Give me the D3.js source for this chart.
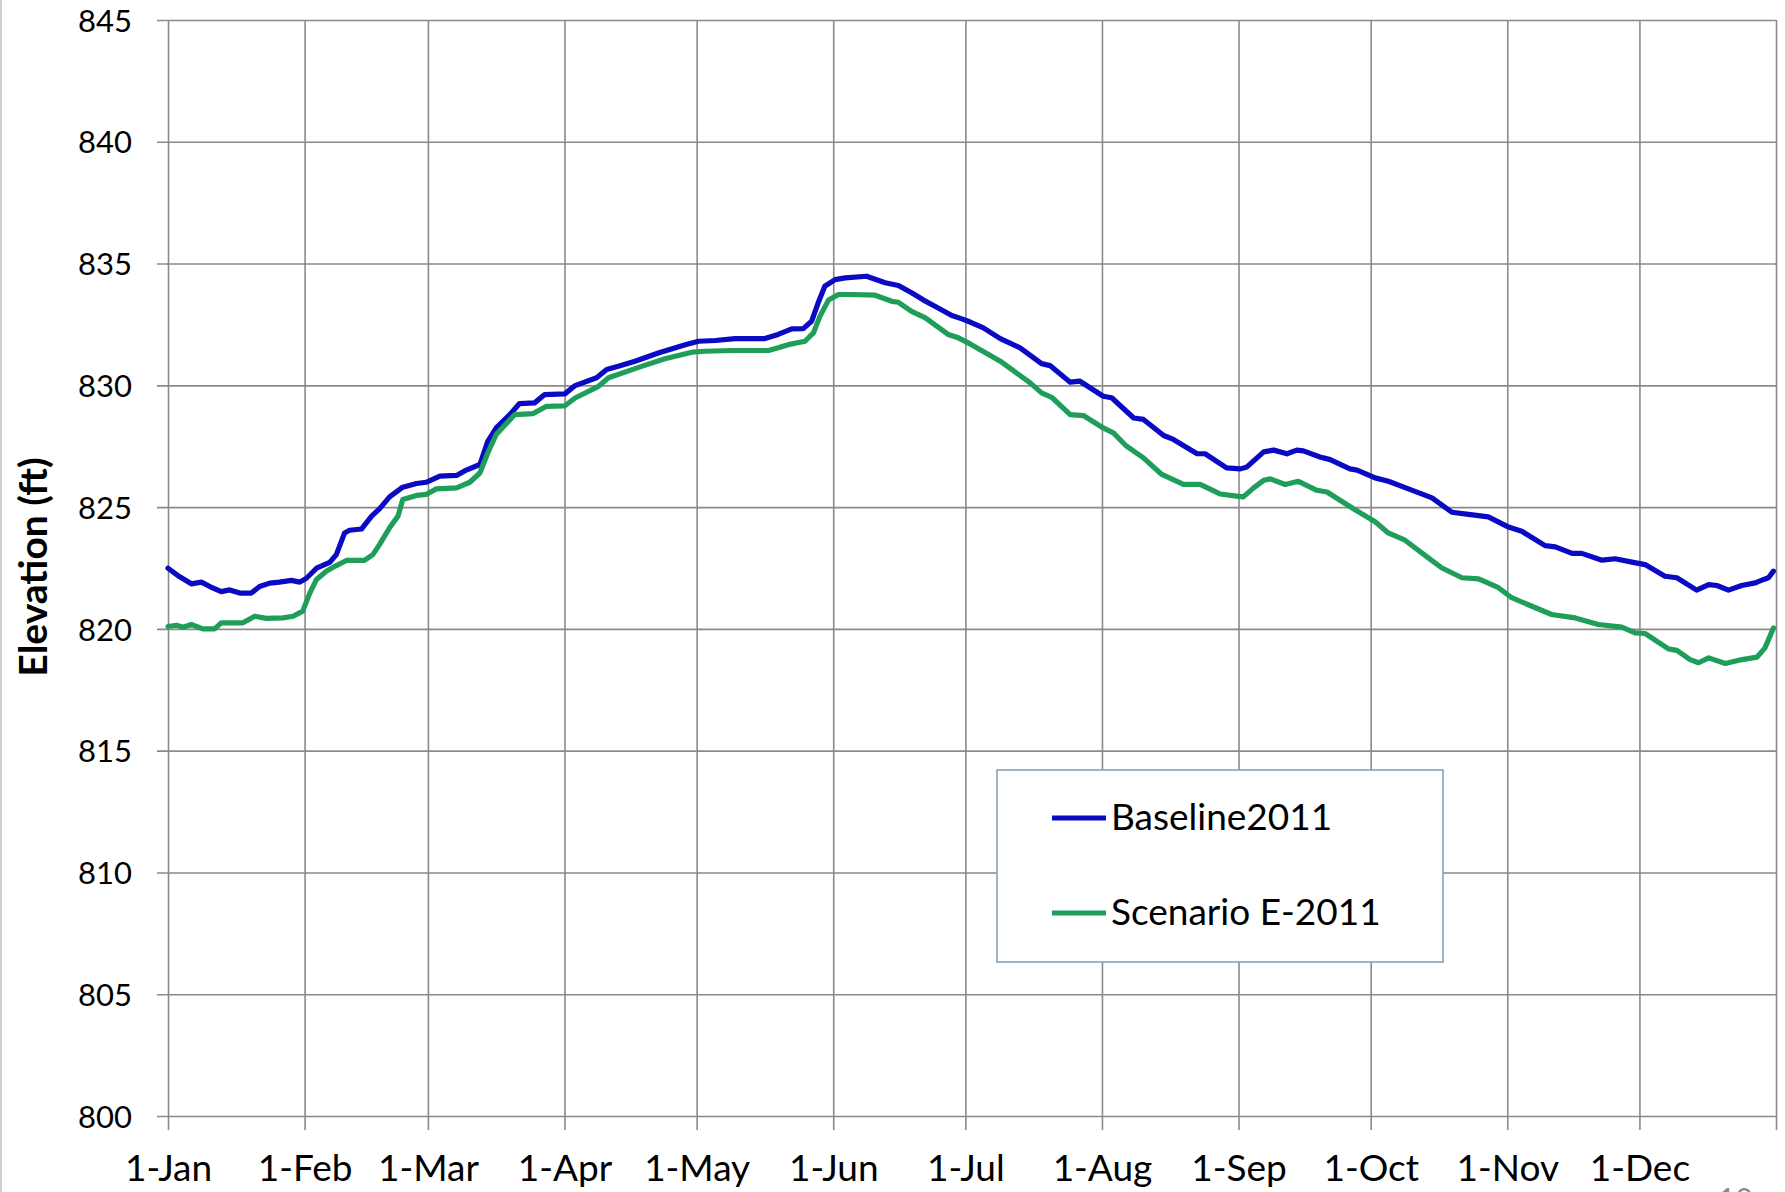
<!DOCTYPE html>
<html>
<head>
<meta charset="utf-8">
<script src="https://cdn.jsdelivr.net/npm/d3@7"></script>
<style>
  body { margin: 0; background: #fff; }
  svg { display: block; font-family: Lato, "Open Sans", sans-serif; }
</style>
</head>
<body>
<svg id="chart"></svg>
<script>
// day of year (0 = 1-Jan-2011) and elevation (ft)
var baseDays = [0, 2.6, 5.3, 7.6, 9.5, 12.1, 14, 16.3, 18.9, 20.8, 23.1, 25.3, 28, 29.9, 31.4, 33.7, 36.7, 38.2, 40.1, 41.2,
  43.9, 46.2, 48, 50.3, 53.3, 56.4, 58.6, 61.7, 65.5, 67.7, 70.8, 72.6, 74.5, 77.6, 79.8, 83.2, 85.5, 90.1,
  92.4, 97.3, 99.6, 102.2, 106, 111.3, 117.4, 120.4, 124.2, 128.7, 135.5, 138.5, 141.6, 144.2, 146.1, 147.6, 149.1,
  151.4, 153.7, 158.6, 162.8, 165.8, 168.8, 171.5, 174.1, 177.9, 180.2, 182.1, 185.1, 188.9, 193.4, 198.3, 200.2,
  204.8, 207, 212.3, 214.2, 219.2, 221.4, 226, 228.2, 233.5, 235.4, 240.3, 243.4, 244.9, 248.7, 251, 254, 256.2,
  257.7, 261.5, 263.8, 268.3, 269.9, 274, 277, 281.6, 286.9, 291.4, 295.2, 299.7, 304.3, 307.3, 312.6, 314.9,
  318.7, 320.9, 325.5, 328.5, 332.3, 335.3, 339.8, 342.5, 347, 349.7, 351.6, 354.2, 357.2, 360.3, 362.2, 363.3, 364.4];
var baseElev = [822.49, 822.15, 821.85, 821.92, 821.74, 821.53, 821.6, 821.47, 821.47, 821.74, 821.88, 821.92, 821.99, 821.92, 822.08, 822.49, 822.73, 823.05, 823.94, 824.05,
  824.1, 824.63, 824.93, 825.42, 825.82, 825.97, 826.02, 826.27, 826.3, 826.52, 826.75, 827.7, 828.25, 828.8, 829.25, 829.28, 829.62, 829.65,
  829.99, 830.31, 830.65, 830.78, 830.99, 831.33, 831.67, 831.81, 831.84, 831.92, 831.92, 832.09, 832.32, 832.33, 832.63, 833.39, 834.07,
  834.34, 834.41, 834.48, 834.21, 834.1, 833.8, 833.5, 833.25, 832.87, 832.73, 832.6, 832.36, 831.92, 831.54, 830.89, 830.81,
  830.13, 830.17, 829.55, 829.49, 828.66, 828.6, 827.94, 827.78, 827.2, 827.19, 826.61, 826.57, 826.65, 827.27, 827.34, 827.19, 827.34,
  827.31, 827.06, 826.95, 826.57, 826.52, 826.2, 826.06, 825.75, 825.38, 824.79, 824.7, 824.6, 824.18, 824.01, 823.42, 823.37,
  823.1, 823.1, 822.82, 822.88, 822.74, 822.64, 822.16, 822.1, 821.59, 821.82, 821.78, 821.59, 821.78, 821.89, 822.03, 822.1, 822.37];

var scenDays = [0, 1.9, 3.4, 5.3, 7.9, 10.6, 12.1, 17, 19.7, 22.3, 26.1, 28.4, 30.6, 32.2, 33.7, 35.9, 38.2, 40.5, 44.6, 46.5,
  48, 50.3, 52.2, 53.3, 56.4, 58.6, 60.9, 65.5, 68.5, 70.8, 72.6, 74.5, 78.7, 82.9, 85.9, 90.1,
  92.4, 97.7, 100, 107.5, 112.8, 118.9, 121.9, 128, 136.3, 138.5, 140.8, 144.6, 146.5, 148, 149.9, 152.2, 155.2,
  160.5, 164.3, 165.8, 168.8, 171.9, 177.1, 179.4, 182.1, 188.9, 195.7, 198.3, 200.6, 204.8, 207.8, 212.3, 214.6,
  217.6, 221.4, 225.6, 230.5, 234.3, 238.8, 242.6, 244.1, 246.4, 248.7, 250.2, 253.6, 256.6, 260.8, 263.1, 269.1,
  274, 277, 280.8, 285.4, 289.1, 293.7, 297.5, 302, 305, 309.6, 314.1, 319.4, 324.7, 330, 333, 335.3, 340.6,
  342.5, 345.5, 347.4, 349.7, 353.5, 357.3, 360.7, 362.5, 364.4];
var scenElev = [820.1, 820.15, 820.07, 820.18, 820.0, 820.0, 820.25, 820.25, 820.52, 820.43, 820.45, 820.52, 820.73, 821.48, 822.03, 822.37, 822.6, 822.81, 822.81, 823.05,
  823.46, 824.15, 824.63, 825.31, 825.48, 825.52, 825.75, 825.79, 826.02, 826.4, 827.22, 827.98, 828.8, 828.84, 829.14, 829.16,
  829.48, 829.96, 830.31, 830.78, 831.09, 831.36, 831.4, 831.43, 831.43, 831.54, 831.67, 831.81, 832.15, 832.84, 833.5, 833.73, 833.73,
  833.7, 833.45, 833.41, 833.04, 832.77, 832.09, 831.95, 831.7, 830.99, 830.1, 829.69, 829.51, 828.8, 828.76, 828.25, 828.05,
  827.5, 827.02, 826.34, 825.93, 825.93, 825.54, 825.45, 825.42, 825.79, 826.1, 826.16, 825.93, 826.06, 825.69, 825.62, 824.93,
  824.4, 823.94, 823.64, 823.01, 822.51, 822.1, 822.05, 821.69, 821.28, 820.93, 820.59, 820.45, 820.18, 820.07, 819.84, 819.81, 819.18,
  819.12, 818.74, 818.61, 818.81, 818.58, 818.74, 818.84, 819.22, 820.04];

var yTicks = [800, 805, 810, 815, 820, 825, 830, 835, 840, 845];
var seriesNames = ["Baseline2011", "Scenario E-2011"];
var seriesColors = ["#0a0ac4", "#1f9e5a"];

var width = 1785, height = 1192;
var margin = {"left": 168, "right": 9, "top": 20, "bottom": 76};
var fontName = "Lato, 'Open Sans', sans-serif";

var svg = d3.select("#chart").attr("width", width).attr("height", height);

var start = new Date(2011, 0, 1), end = new Date(2012, 0, 1);
var xScale = d3.scaleTime().domain([start, end]).range([margin.left, width - margin.right]);
var yScale = d3.scaleLinear().domain([800, 845]).range([height - margin.bottom, margin.top]);

// slide edge
svg.append("line").attr("x1", 1).attr("x2", 1).attr("y1", 0).attr("y2", height)
   .attr("stroke", "#cfcfcf").attr("stroke-width", 2);

// vertical grid + month labels
var tickLen = 14;
var months = d3.timeMonth.range(start, d3.timeDay.offset(end, 1));
var xAxis = d3.axisBottom(xScale)
              .tickValues(months)
              .tickFormat(function(d) { return d.getFullYear() == 2011 ? d3.timeFormat("%-d-%b")(d) : ""; })
              .tickSize(-(yScale(800) + tickLen - margin.top))
              .tickPadding(25);
var gx = svg.append("g").attr("transform", "translate(0," + (yScale(800) + tickLen) + ")").call(xAxis)
            .attr("font-family", fontName).attr("font-size", 37);
gx.select(".domain").remove();
gx.selectAll("line").attr("stroke", "#8a8a8a").attr("stroke-width", 1.6);
gx.selectAll("text").attr("fill", "#000");

// horizontal grid + elevation labels
var yAxis = d3.axisLeft(yScale)
              .tickValues(yTicks)
              .tickSize(-(width - margin.right - margin.left + 11))
              .tickPadding(25);
var gy = svg.append("g").attr("transform", "translate(" + (margin.left - 11) + ",0)").call(yAxis)
            .attr("font-family", fontName).attr("font-size", 31);
gy.select(".domain").remove();
gy.selectAll("line").attr("stroke", "#8a8a8a").attr("stroke-width", 1.6);
gy.selectAll("text").attr("fill", "#000").attr("dy", "0.36em");

// y title
svg.append("text")
   .attr("transform", "translate(47,567) rotate(-90)")
   .attr("text-anchor", "middle")
   .attr("font-size", 39).attr("font-weight", "bold")
   .text("Elevation (ft)");

// series
var line = d3.line()
             .x(function(d) { return xScale(d3.timeHour.offset(start, Math.round(d[0] * 24))); })
             .y(function(d) { return yScale(d[1]); });

var series = [d3.zip(baseDays, baseElev), d3.zip(scenDays, scenElev)];
series.forEach(function(s, i) {
  svg.append("path").datum(s)
     .attr("d", line)
     .attr("fill", "none")
     .attr("stroke", seriesColors[i])
     .attr("stroke-width", 5.2)
     .attr("stroke-linejoin", "round")
     .attr("stroke-linecap", "round");
});

// legend
var legend = svg.append("g").attr("transform", "translate(997,770)");
legend.append("rect").attr("width", 446).attr("height", 192)
      .attr("fill", "#fff").attr("stroke", "#8aa2b4").attr("stroke-width", 1.6);
seriesNames.forEach(function(name, i) {
  var yy = 48 + i * 95;
  legend.append("line").attr("x1", 55).attr("x2", 109).attr("y1", yy).attr("y2", yy)
        .attr("stroke", seriesColors[i]).attr("stroke-width", 5);
  legend.append("text").attr("x", 114).attr("y", yy + 12)
        .attr("font-size", 37).attr("fill", "#000").text(name);
});

// slide number, cut by the bottom edge as in the source slide
svg.append("text").attr("x", 1718).attr("y", 1210)
   .attr("font-size", 30).attr("fill", "#8a8a8a").text("10");
</script>
</body>
</html>
